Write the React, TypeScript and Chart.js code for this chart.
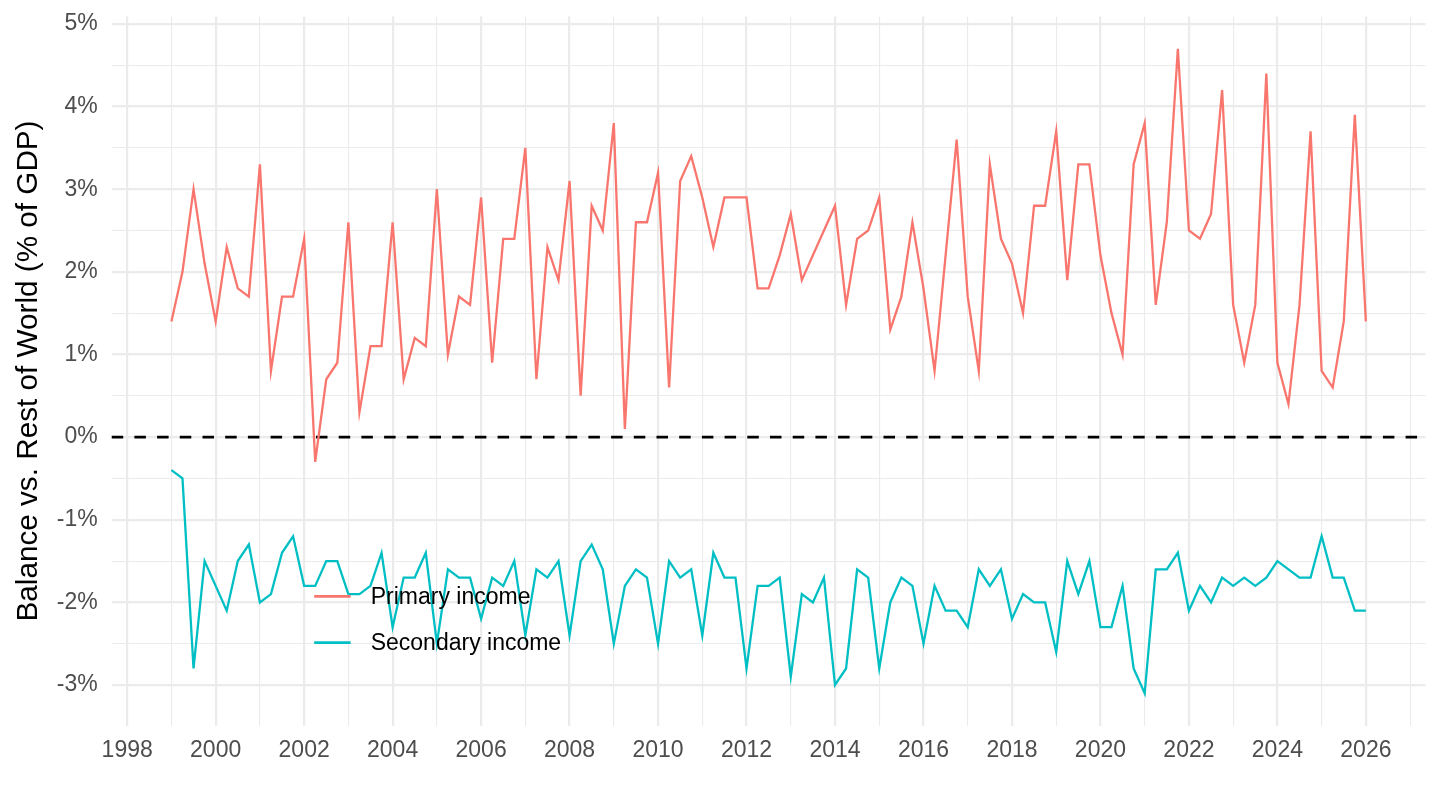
import React, { useEffect, useRef } from 'react';
import Chart from 'chart.js/auto';

// quarterly balance vs. rest of world, % of GDP, 1999Q1 .. 2026Q1
const startYear = 1999;

const primaryIncome = [
  1.4, 2.0, 3.0, 2.1,
  1.4, 2.3, 1.8, 1.7,
  3.3, 0.8, 1.7, 1.7,
  2.4, -0.3, 0.7, 0.9,
  2.6, 0.3, 1.1, 1.1,
  2.6, 0.7, 1.2, 1.1,
  3.0, 1.0, 1.7, 1.6,
  2.9, 0.9, 2.4, 2.4,
  3.5, 0.7, 2.3, 1.9,
  3.1, 0.5, 2.8, 2.5,
  3.8, 0.1, 2.6, 2.6,
  3.2, 0.6, 3.1, 3.4,
  2.9, 2.3, 2.9, 2.9,
  2.9, 1.8, 1.8, 2.2,
  2.7, 1.9, 2.2, 2.5,
  2.8, 1.6, 2.4, 2.5,
  2.9, 1.3, 1.7, 2.6,
  1.8, 0.8, 2.2, 3.6,
  1.7, 0.8, 3.3, 2.4,
  2.1, 1.5, 2.8, 2.8,
  3.7, 1.9, 3.3, 3.3,
  2.2, 1.5, 1.0, 3.3,
  3.8, 1.6, 2.6, 4.7,
  2.5, 2.4, 2.7, 4.2,
  1.6, 0.9, 1.6, 4.4,
  0.9, 0.4, 1.6, 3.7,
  0.8, 0.6, 1.4, 3.9,
  1.4,
];

const secondaryIncome = [
  -0.4, -0.5, -2.8, -1.5,
  -1.8, -2.1, -1.5, -1.3,
  -2.0, -1.9, -1.4, -1.2,
  -1.8, -1.8, -1.5, -1.5,
  -1.9, -1.9, -1.8, -1.4,
  -2.3, -1.7, -1.7, -1.4,
  -2.5, -1.6, -1.7, -1.7,
  -2.2, -1.7, -1.8, -1.5,
  -2.4, -1.6, -1.7, -1.5,
  -2.4, -1.5, -1.3, -1.6,
  -2.5, -1.8, -1.6, -1.7,
  -2.5, -1.5, -1.7, -1.6,
  -2.4, -1.4, -1.7, -1.7,
  -2.8, -1.8, -1.8, -1.7,
  -2.9, -1.9, -2.0, -1.7,
  -3.0, -2.8, -1.6, -1.7,
  -2.8, -2.0, -1.7, -1.8,
  -2.5, -1.8, -2.1, -2.1,
  -2.3, -1.6, -1.8, -1.6,
  -2.2, -1.9, -2.0, -2.0,
  -2.6, -1.5, -1.9, -1.5,
  -2.3, -2.3, -1.8, -2.8,
  -3.1, -1.6, -1.6, -1.4,
  -2.1, -1.8, -2.0, -1.7,
  -1.8, -1.7, -1.8, -1.7,
  -1.5, -1.6, -1.7, -1.7,
  -1.2, -1.7, -1.7, -2.1,
  -2.1,
];

const yearTicks = [
  1998, 1999, 2000, 2001, 2002, 2003, 2004, 2005, 2006, 2007,
  2008, 2009, 2010, 2011, 2012, 2013, 2014, 2015, 2016, 2017,
  2018, 2019, 2020, 2021, 2022, 2023, 2024, 2025, 2026, 2027,
];
const percentTicks = [-3, -2.5, -2, -1.5, -1, -0.5, 0, 0.5, 1, 1.5, 2, 2.5, 3, 3.5, 4, 4.5, 5];

const seriesNames = ['Primary income', 'Secondary income'];
const seriesColors = ['#F8766D', '#00BFC4'];

const FONT = '"Liberation Sans", Arial, Helvetica, sans-serif';

const quarterDates = primaryIncome.map((_, i) => startYear + i / 4);

const isWhole = (v: number) => Math.abs(v - Math.round(v)) < 1e-9;

const zeroLine = {
  id: 'zeroLine',
  beforeDatasetsDraw(chart: any) {
    const { ctx, chartArea, scales } = chart;
    const y = scales.y.getPixelForValue(0);
    ctx.save();
    ctx.strokeStyle = '#000000';
    ctx.lineWidth = 2.7;
    ctx.setLineDash([11.5, 11.2]);
    ctx.beginPath();
    ctx.moveTo(chartArea.left, y);
    ctx.lineTo(chartArea.right, y);
    ctx.stroke();
    ctx.restore();
  },
};

// ggplot-style legend sitting inside the panel
const insideLegend = {
  id: 'insideLegend',
  afterDraw(chart: any) {
    const { ctx, chartArea } = chart;
    const w = chartArea.right - chartArea.left;
    const h = chartArea.bottom - chartArea.top;
    const x0 = chartArea.left + w * 0.1541;
    const rows = [0.818, 0.883];
    ctx.save();
    ctx.font = `23px ${FONT}`;
    ctx.textBaseline = 'middle';
    ctx.textAlign = 'left';
    seriesNames.forEach((name, i) => {
      const y = chartArea.top + h * rows[i];
      ctx.strokeStyle = seriesColors[i];
      ctx.lineWidth = 2.7;
      ctx.beginPath();
      ctx.moveTo(x0, y);
      ctx.lineTo(x0 + 36.5, y);
      ctx.stroke();
      ctx.fillStyle = '#000000';
      ctx.fillText(name, x0 + 56.5, y + 1);
    });
    ctx.restore();
  },
};

const BalanceChart: React.FC = () => {
  const chartRef = useRef<HTMLCanvasElement>(null);

  useEffect(() => {
    document.body.style.margin = '0';
    if (!chartRef.current) return;

    const myChart = new Chart(chartRef.current, {
      type: 'line',
      data: {
        datasets: [primaryIncome, secondaryIncome].map((values, i) => ({
          label: seriesNames[i],
          data: values.map((v, j) => ({ x: quarterDates[j], y: v })),
          borderColor: seriesColors[i],
          borderWidth: 2.3,
          pointRadius: 0,
          tension: 0,
          fill: false,
        })),
      },
      options: {
        animation: false,
        responsive: true,
        maintainAspectRatio: false,
        layout: { padding: { top: 16.5, right: 14.4, bottom: 0, left: 0 } },
        plugins: {
          legend: { display: false },
          tooltip: { enabled: false },
        },
        scales: {
          x: {
            type: 'linear',
            min: 1997.65,
            max: 2027.35,
            afterBuildTicks: (scale: any) => {
              scale.ticks = yearTicks.map((v) => ({ value: v }));
            },
            afterFit: (scale: any) => {
              scale.height = 84.5;
              scale.paddingLeft = 0;
              scale.paddingRight = 0;
            },
            ticks: {
              autoSkip: false,
              maxRotation: 0,
              padding: 11,
              color: '#4D4D4D',
              font: { family: FONT, size: 23 },
              callback: (v: any) => (Number(v) % 2 === 0 ? String(v) : ''),
            },
            grid: {
              color: '#EBEBEB',
              lineWidth: (c: any) => (c.tick && c.tick.value % 2 === 0 ? 2.2 : 1.1),
              drawTicks: false,
            },
            border: { display: false },
          },
          y: {
            min: -3.49,
            max: 5.09,
            afterBuildTicks: (scale: any) => {
              scale.ticks = percentTicks.map((v) => ({ value: v }));
            },
            afterFit: (scale: any) => {
              scale.width = 111.7;
              scale.paddingTop = 0;
              scale.paddingBottom = 0;
            },
            title: {
              display: true,
              text: 'Balance vs. Rest of World (% of GDP)',
              color: '#000000',
              font: { family: FONT, size: 29.7 },
              padding: { top: 11, bottom: 0 },
            },
            ticks: {
              padding: 14,
              color: '#4D4D4D',
              font: { family: FONT, size: 23 },
              callback: (v: any) => (isWhole(Number(v)) ? `${Math.round(Number(v))}%` : ''),
            },
            grid: {
              color: '#EBEBEB',
              lineWidth: (c: any) => (c.tick && isWhole(c.tick.value) ? 2.2 : 1.1),
              drawTicks: false,
            },
            border: { display: false },
          },
        },
      },
      plugins: [zeroLine, insideLegend],
    });

    return () => {
      myChart.destroy();
    };
  }, []);

  return (
    <div style={{ position: 'relative', width: 1440, height: 810 }}>
      <canvas ref={chartRef} />
    </div>
  );
};

export default function App() {
  return <BalanceChart />;
}
